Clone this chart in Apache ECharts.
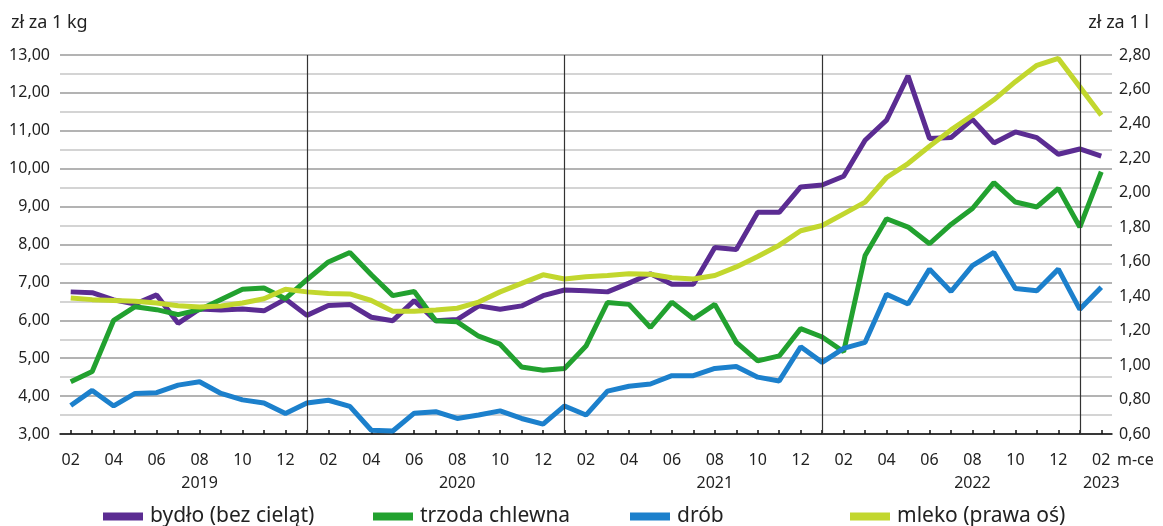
<!DOCTYPE html>
<html>
<head>
<meta charset="utf-8">
<script src="https://cdn.jsdelivr.net/npm/echarts@6/dist/echarts.min.js"></script>
<style>html,body{margin:0;padding:0;background:#fff}#c{width:1163px;height:526px}</style>
</head>
<body>
<div id="c"></div>
<script>
const categories = [
 '2019-02','2019-03','2019-04','2019-05','2019-06','2019-07','2019-08','2019-09','2019-10','2019-11','2019-12',
 '2020-01','2020-02','2020-03','2020-04','2020-05','2020-06','2020-07','2020-08','2020-09','2020-10','2020-11','2020-12',
 '2021-01','2021-02','2021-03','2021-04','2021-05','2021-06','2021-07','2021-08','2021-09','2021-10','2021-11','2021-12',
 '2022-01','2022-02','2022-03','2022-04','2022-05','2022-06','2022-07','2022-08','2022-09','2022-10','2022-11','2022-12',
 '2023-01','2023-02'
];
const yearLabels = [['2019-08','2019'],['2020-08','2020'],['2021-08','2021'],['2022-08','2022'],['2023-02','2023']];
const seriesNames = ['bydło (bez cieląt)','trzoda chlewna','drób','mleko (prawa oś)'];
const bydlo = [6.75,6.73,6.54,6.43,6.67,5.92,6.30,6.27,6.30,6.25,6.56,
 6.13,6.39,6.42,6.08,5.99,6.52,5.99,6.02,6.38,6.29,6.38,6.65,
 6.80,6.78,6.75,6.98,7.23,6.95,6.95,7.92,7.87,8.85,8.85,9.52,
 9.57,9.80,10.75,11.28,12.45,10.80,10.82,11.30,10.68,10.97,10.82,10.38,
 10.52,10.33];
const trzoda = [4.38,4.65,6.00,6.36,6.28,6.15,6.28,6.55,6.82,6.85,6.57,
 7.07,7.54,7.79,7.20,6.65,6.76,5.99,5.96,5.58,5.37,4.77,4.68,
 4.73,5.32,6.47,6.42,5.81,6.48,6.04,6.42,5.42,4.93,5.06,5.78,
 5.56,5.17,7.71,8.68,8.46,8.02,8.53,8.95,9.63,9.12,8.99,9.48,
 8.46,9.92];
const drob = [3.75,4.15,3.74,4.07,4.09,4.29,4.38,4.07,3.90,3.82,3.54,
 3.82,3.89,3.73,3.10,3.08,3.55,3.59,3.41,3.50,3.61,3.41,3.26,
 3.74,3.50,4.13,4.26,4.32,4.54,4.54,4.73,4.78,4.50,4.40,5.30,
 4.89,5.26,5.42,6.69,6.43,7.35,6.76,7.44,7.79,6.84,6.78,7.35,
 6.29,6.87];
const mleko = [1.39,1.38,1.375,1.37,1.36,1.345,1.337,1.343,1.36,1.385,1.44,
 1.425,1.415,1.413,1.375,1.313,1.313,1.32,1.33,1.366,1.425,1.474,1.524,
 1.50,1.513,1.52,1.53,1.527,1.507,1.50,1.52,1.57,1.63,1.696,1.78,
 1.81,1.878,1.946,2.089,2.17,2.27,2.365,2.45,2.54,2.645,2.74,2.78,
 2.615,2.45];
const colors = ['#5b2c92','#22a12f','#1c80cc','#c2d72e'];

const FONT = '"Noto Sans", "Open Sans", sans-serif';
const TXT = '#222';
const yearMap = Object.fromEntries(yearLabels);
const janIdx = categories.map((c,i)=>c.endsWith('-01')?i:-1).filter(i=>i>=0);
const comma = (v,d)=>v.toFixed(d).replace('.',',');

const chart = echarts.init(document.getElementById('c'), null, {renderer:'canvas'});
const legendLefts = [98, 368, 625, 845];
chart.setOption({
  animation:false,
  textStyle:{fontFamily:FONT},
  title:[
    {text:'zł za 1 kg', left:6, top:9, textStyle:{fontFamily:FONT,fontSize:18,fontWeight:'normal',color:TXT}},
    {text:'zł za 1 l', right:9, top:9, textStyle:{fontFamily:FONT,fontSize:18,fontWeight:'normal',color:TXT}}
  ],
  legend: seriesNames.map((n,i)=>({
    data:[n], left:legendLefts[i], top:501, itemWidth:40, itemHeight:8, itemGap:0,
    icon:'rect', textStyle:{fontFamily:FONT,fontSize:21,color:TXT,padding:[0,0,0,2]}
  })),
  grid:{left:60,right:51,top:55,bottom:92,containLabel:false},
  xAxis:[
    {type:'category',data:categories,boundaryGap:true,position:'bottom',
     axisLine:{show:true,lineStyle:{color:'#111',width:1.5}},
     axisTick:{show:true,alignWithLabel:true,interval:0,inside:true,length:4,lineStyle:{color:'#111',width:1.5}},
     axisLabel:{interval:1,margin:18,fontSize:16,color:TXT,fontFamily:FONT,formatter:v=>v.slice(5)},
     name:'m-ce',nameLocation:'end',nameGap:5,
     nameTextStyle:{fontSize:16,color:TXT,fontFamily:FONT,verticalAlign:'top',padding:[18,0,0,0]},
     splitLine:{show:false}},
    {type:'category',data:categories,boundaryGap:true,position:'bottom',offset:0,
     axisLine:{show:false},axisTick:{show:false},
     axisLabel:{interval:0,margin:41,fontSize:16,color:TXT,fontFamily:FONT,formatter:v=>yearMap[v]||''}}
  ],
  yAxis:[
    {type:'value',min:3,max:13,interval:0.5,position:'left',
     axisLine:{show:false},axisTick:{show:false},
     axisLabel:{margin:10,fontSize:16,color:TXT,fontFamily:FONT,formatter:v=>(Math.abs(v-Math.round(v))<1e-9?comma(v,2):'')},
     splitLine:{show:true,lineStyle:{color:['#9a9a9a','#c6c6c6'],width:1.5}}},
    {type:'value',min:0.6,max:2.8,interval:0.2,position:'right',
     axisLine:{show:false},axisTick:{show:false},
     axisLabel:{margin:7,fontSize:16,color:TXT,fontFamily:FONT,formatter:v=>comma(v,2)},
     splitLine:{show:false}}
  ],
  series:[
    {name:seriesNames[0],type:'line',data:bydlo,yAxisIndex:0,symbol:'none',color:colors[0],lineStyle:{width:5,color:colors[0]},
     markLine:{silent:true,symbol:'none',label:{show:false},lineStyle:{color:'#333',width:1.2,type:'solid'},
       data:janIdx.map(i=>({xAxis:i}))}},
    {name:seriesNames[1],type:'line',data:trzoda,yAxisIndex:0,symbol:'none',color:colors[1],lineStyle:{width:5,color:colors[1]}},
    {name:seriesNames[2],type:'line',data:drob,yAxisIndex:0,symbol:'none',color:colors[2],lineStyle:{width:5,color:colors[2]}},
    {name:seriesNames[3],type:'line',data:mleko,yAxisIndex:1,symbol:'none',color:colors[3],lineStyle:{width:5,color:colors[3]}}
  ]
});
</script>
</body>
</html>
